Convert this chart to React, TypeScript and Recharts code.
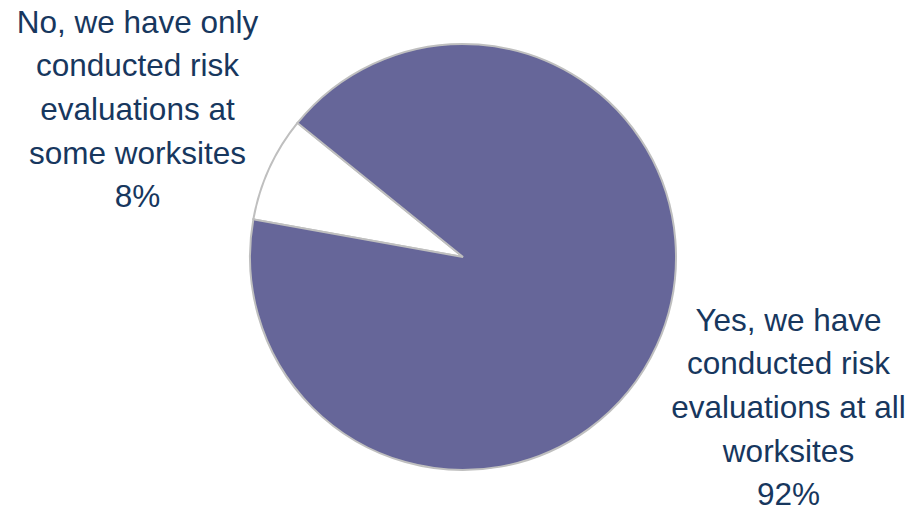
import React from 'react';
import { PieChart, Pie, Cell } from 'recharts';

const categories = [
  'No, we have only conducted risk evaluations at some worksites',
  'Yes, we have conducted risk evaluations at all worksites',
];
const values = [8, 92];
const labelLines = [
  ['No, we have only', 'conducted risk', 'evaluations at', 'some worksites', '8%'],
  ['Yes, we have', 'conducted risk', 'evaluations at all', 'worksites', '92%'],
];
const colors = ['#FFFFFF', '#666699'];

const chartData = categories.map((name, i) => ({ name, value: values[i], lines: labelLines[i] }));

const RAD = Math.PI / 180;
const LINE_H = 43.6;

const renderLabel = (props: any) => {
  const { cx, cy, midAngle, outerRadius, index } = props;
  const r = outerRadius + 145;
  const x = cx + r * Math.cos(-midAngle * RAD);
  const y = cy + r * Math.sin(-midAngle * RAD);
  const lines: string[] = chartData[index].lines;
  const firstBaseline = y + 12 - ((lines.length - 1) / 2) * LINE_H;
  return (
    <text
      x={x}
      y={firstBaseline}
      textAnchor="middle"
      fill="#17375E"
      fontSize={31.5}
      fontFamily="'Liberation Sans', Arial, sans-serif"
    >
      {lines.map((l, i) => (
        <tspan key={i} x={x} dy={i === 0 ? 0 : LINE_H}>
          {l}
        </tspan>
      ))}
    </text>
  );
};

export default function App() {
  return (
    <div style={{ position: 'absolute', left: 0, top: 0, width: 909, height: 508, background: '#fff' }}>
      <PieChart width={909} height={508} margin={{ top: 0, right: 0, bottom: 0, left: 0 }}>
        <Pie
          data={chartData}
          dataKey="value"
          nameKey="name"
          cx={463}
          cy={257}
          outerRadius={213}
          startAngle={141}
          endAngle={501}
          stroke="#BFBFBF"
          strokeWidth={2}
          label={renderLabel}
          labelLine={false}
          isAnimationActive={false}
        >
          {chartData.map((entry, index) => (
            <Cell key={`cell-${index}`} fill={colors[index]} />
          ))}
        </Pie>
      </PieChart>
    </div>
  );
}
